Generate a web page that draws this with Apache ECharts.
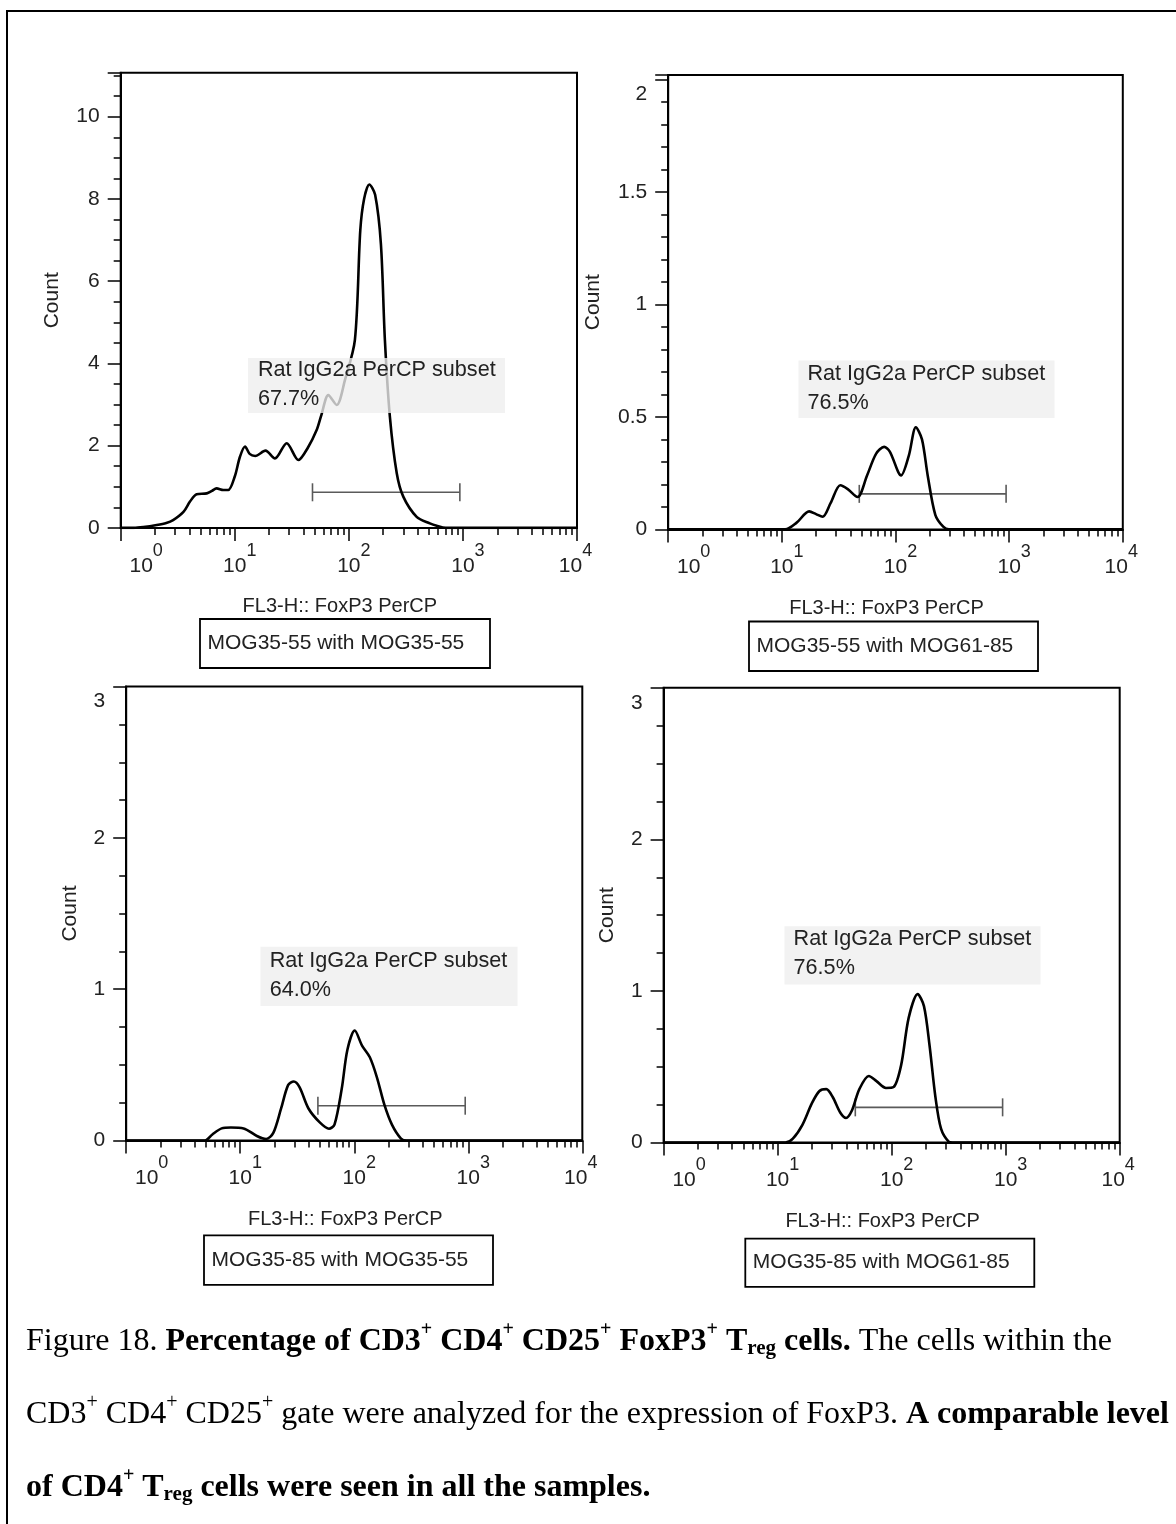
<!DOCTYPE html>
<html>
<head>
<meta charset="utf-8">
<script src="https://cdn.jsdelivr.net/npm/echarts@6/dist/echarts.min.js"></script>
<style>
html,body{margin:0;padding:0;background:#fff;}
#chart{width:1176px;height:1524px;}
</style>
</head>
<body>
<div id="chart"></div>
<script>
// ---------------- DATA ----------------
// FoxP3 PerCP intensity (FL3-H) and event count
const tlIntensity = [1, 1.3, 1.58, 2.07, 2.51, 2.88, 3.55, 4.05, 4.63, 5.68, 6.31, 6.92, 7.94, 8.77, 10, 11.1, 12.3, 13.5, 15.1, 18.6, 22.5, 28.5, 36.1, 43.7, 52.2, 57.5, 66.1, 78.2, 92.5, 113, 126, 136, 151, 170, 191, 207, 229, 263, 300, 393, 513, 589, 708, 10000];
const tlCount     = [0, 0, 0.02, 0.07, 0.12, 0.19, 0.39, 0.64, 0.82, 0.84, 0.9, 0.96, 0.92, 0.92, 1.25, 1.73, 1.98, 1.8, 1.75, 1.88, 1.69, 2.06, 1.65, 1.95, 2.38, 2.75, 3.23, 2.99, 3.6, 4.57, 7.24, 8.0, 8.35, 8.1, 6.9, 4.57, 2.7, 1.33, 0.76, 0.27, 0.11, 0.05, 0, 0];

const trIntensity = [1, 10.7, 13.5, 17.4, 20, 22.8, 26.9, 32.7, 38, 46.3, 56.2, 67.6, 79.4, 89.1, 112, 131, 151, 171, 192, 224, 263, 295, 10000];
const trCount     = [0, 0, 0.03, 0.08, 0.068, 0.056, 0.118, 0.196, 0.179, 0.144, 0.24, 0.337, 0.367, 0.346, 0.24, 0.328, 0.454, 0.4, 0.24, 0.065, 0.012, 0, 0];

const blIntensity = [1, 4.9, 5.7, 6.87, 8.28, 10.7, 14.0, 16.9, 19.5, 22.8, 26.3, 29.5, 33.1, 39.8, 50.1, 60, 67.1, 77.6, 87.1, 101, 117, 137, 158, 184, 214, 257, 288, 10000];
const blCount     = [0, 0, 0.04, 0.08, 0.086, 0.08, 0.03, 0.01, 0.05, 0.21, 0.366, 0.39, 0.353, 0.21, 0.118, 0.078, 0.105, 0.34, 0.6, 0.727, 0.627, 0.55, 0.418, 0.235, 0.105, 0.013, 0, 0];

const brIntensity = [1, 11.7, 13.6, 16.5, 20, 23.3, 26.7, 30.4, 35.5, 39.8, 44.7, 52.1, 63.1, 73.6, 89.1, 104, 121, 141, 169, 192, 215, 242, 271, 316, 341, 10000];
const brCount     = [0, 0, 0.026, 0.117, 0.26, 0.34, 0.352, 0.3, 0.196, 0.162, 0.209, 0.352, 0.439, 0.405, 0.36, 0.366, 0.509, 0.822, 0.979, 0.9, 0.64, 0.3, 0.091, 0.005, 0, 0];

const sampleNames    = ['MOG35-55 with MOG35-55', 'MOG35-55 with MOG61-85', 'MOG35-85 with MOG35-55', 'MOG35-85 with MOG61-85'];
const subsetName     = 'Rat IgG2a PerCP subset';
const subsetPercents = ['67.7%', '76.5%', '64.0%', '76.5%'];
const gateRange      = [48, 940];
const gateLevels     = [0.866, 0.158, 0.23, 0.232];
const countMax       = [11.07, 2.02, 3, 3];
const countStep      = [2, 0.5, 1, 1];
const countMinorSplit= [4, 5, 4, 4];
const intensityRange = [1, 10000];
const xAxisTitle     = 'FL3-H:: FoxP3 PerCP';
const yAxisTitle     = 'Count';

// ---------------- LAYOUT ----------------
const SANS = '"Liberation Sans", Arial, Helvetica, sans-serif';
const SERIF = '"Liberation Serif", "Times New Roman", serif';
const TXT = '#222';

const panels = [
  { grid: {left: 120.7, top: 72.7, width: 456.3, height: 455.2}, countGap: 58,
    ann: {x: 248, y: 358, w: 257, h: 55, tx: 258, ty: 356}, box: {x: 200, y: 619, w: 290, h: 49} },
  { grid: {left: 668.2, top: 75, width: 454.6, height: 454.4}, countGap: 64,
    ann: {x: 798.5, y: 360.5, w: 256, h: 57.5, tx: 807.5, ty: 360}, box: {x: 749, y: 621.5, w: 289, h: 49.5} },
  { grid: {left: 126.2, top: 686.6, width: 456.1, height: 453.9}, countGap: 45,
    ann: {x: 260.5, y: 946.8, w: 257, h: 59.2, tx: 269.7, ty: 946.5}, box: {x: 204, y: 1235.4, w: 289, h: 49.5} },
  { grid: {left: 663.6, top: 687.8, width: 456.1, height: 454.7}, countGap: 46,
    ann: {x: 784.5, y: 926.2, w: 256, h: 58.2, tx: 793.6, ty: 924.8}, box: {x: 745.3, y: 1238.6, w: 289, h: 48.2} }
];

const seriesData = [
  [tlIntensity, tlCount], [trIntensity, trCount], [blIntensity, blCount], [brIntensity, brCount]
];

const grids = [], xAxes = [], yAxes = [], series = [], graphics = [];

panels.forEach((p, i) => {
  grids.push(Object.assign({
    show: true, borderColor: '#000', borderWidth: 2, backgroundColor: 'transparent',
    containLabel: false, outerBoundsMode: 'none'
  }, p.grid));

  xAxes.push({
    type: 'log', logBase: 10, gridIndex: i,
    min: intensityRange[0], max: intensityRange[1],
    axisLine: {show: true, onZero: false, lineStyle: {color: '#000', width: 2}},
    axisTick: {show: true, inside: false, length: 13, lineStyle: {color: '#000', width: 1.5}},
    minorTick: {show: true, splitNumber: 9, length: 7, lineStyle: {color: '#000', width: 1.5}},
    splitLine: {show: false}, minorSplitLine: {show: false},
    axisLabel: {
      show: true, margin: 14, color: TXT, fontFamily: SANS,
      showMinLabel: true, showMaxLabel: true, hideOverlap: false,
      formatter: function (v) {
        const e = Math.round(Math.log10(v));
        if (e === 0) return '{p0| }{b|10}{s|' + e + '}';
        if (e === 4) return '{b|10}{s|' + e + '}{q| }';
        return '{p| }{b|10}{s|' + e + '}';
      },
      rich: {
        p0: {width: 51, fontSize: 21},
        p: {width: 10, fontSize: 21},
        q: {width: 3, fontSize: 21},
        b: {fontSize: 21, fontFamily: SANS, color: TXT},
        s: {fontSize: 18, fontFamily: SANS, color: TXT, padding: [0, 0, 30, 0]}
      }
    },
    name: xAxisTitle, nameLocation: 'middle', nameGap: 69, nameMoveOverlap: false,
    nameTextStyle: {fontSize: 20, fontFamily: SANS, color: TXT, padding: [0, 18, 0, 0]}
  });

  const step = countStep[i];
  const topVal = Math.floor(countMax[i] / step + 1e-9) * step;
  const nearTop = (countMax[i] - topVal) < step * 0.1;
  yAxes.push({
    type: 'value', gridIndex: i, min: 0, max: countMax[i], interval: step,
    axisLine: {show: true, onZero: false, lineStyle: {color: '#000', width: 2}},
    axisTick: {show: true, inside: false, length: 13, lineStyle: {color: '#000', width: 1.5}},
    minorTick: {show: true, splitNumber: countMinorSplit[i], length: 7, lineStyle: {color: '#000', width: 1.5}},
    splitLine: {show: false}, minorSplitLine: {show: false},
    axisLabel: {
      margin: 21, color: TXT, fontFamily: SANS, fontSize: 21,
      formatter: function (v) {
        const r = v / step;
        if (Math.abs(r - Math.round(r)) > 1e-6) return '';
        const s = String(+v.toFixed(2));
        if (nearTop && Math.abs(v - topVal) < 1e-9) return '{t|' + s + '}';
        return '{v|' + s + '}';
      },
      rich: {
        v: {fontSize: 21, fontFamily: SANS, color: TXT},
        t: {fontSize: 21, fontFamily: SANS, color: TXT, padding: [30, 0, 0, 0]}
      }
    },
    name: yAxisTitle, nameLocation: 'middle', nameGap: p.countGap, nameRotate: 90, nameMoveOverlap: false,
    nameTextStyle: {fontSize: 21, fontFamily: SANS, color: TXT}
  });

  const [xs, ys] = seriesData[i];
  series.push({
    type: 'line', xAxisIndex: i, yAxisIndex: i,
    data: xs.map((x, k) => [x, ys[k]]),
    smooth: 0.3, showSymbol: false, symbol: 'none',
    lineStyle: {color: '#000', width: 2.6}, z: 3, animation: false
  });

  series.push({
    type: 'custom', xAxisIndex: i, yAxisIndex: i, z: 2, clip: false, animation: false,
    encode: {x: [0, 1], y: 2},
    data: [[gateRange[0], gateRange[1], gateLevels[i]]],
    renderItem: function (params, api) {
      const y = api.value(2);
      const a = api.coord([api.value(0), y]);
      const b = api.coord([api.value(1), y]);
      const st = {stroke: '#5a5a5a', lineWidth: 1.6};
      return {type: 'group', children: [
        {type: 'line', shape: {x1: a[0], y1: a[1], x2: b[0], y2: b[1]}, style: st},
        {type: 'line', shape: {x1: a[0], y1: a[1] - 9, x2: a[0], y2: a[1] + 9}, style: st},
        {type: 'line', shape: {x1: b[0], y1: b[1] - 9, x2: b[0], y2: b[1] + 9}, style: st}
      ]};
    }
  });

  // annotation (subset name + percent) on translucent box
  graphics.push({
    type: 'rect', z: 100, silent: true,
    shape: {x: p.ann.x, y: p.ann.y, width: p.ann.w, height: p.ann.h},
    style: {fill: 'rgba(238,238,238,0.78)'}
  });
  graphics.push({
    type: 'text', z: 101, silent: true, x: p.ann.tx, y: p.ann.ty,
    style: {text: subsetName + '\n' + subsetPercents[i], fill: TXT, font: '21.6px ' + SANS,
            lineHeight: 29, align: 'left', verticalAlign: 'top'}
  });
  // sample name box
  graphics.push({
    type: 'rect', z: 100, silent: true,
    shape: {x: p.box.x, y: p.box.y, width: p.box.w, height: p.box.h},
    style: {fill: '#fff', stroke: '#000', lineWidth: 1.8}
  });
  graphics.push({
    type: 'text', z: 101, silent: true, x: p.box.x + 7.5, y: p.box.y + p.box.h / 2,
    style: {text: sampleNames[i], fill: TXT, font: '21px ' + SANS, align: 'left', verticalAlign: 'middle'}
  });
});

// outer frame
graphics.push({
  type: 'rect', z: 0, silent: true,
  shape: {x: 7, y: 11, width: 1400, height: 1700},
  style: {fill: 'none', stroke: '#000', lineWidth: 2}
});

// caption
const capRich = {
  r: {fontFamily: SERIF, fontSize: 32, color: '#000'},
  b: {fontFamily: SERIF, fontSize: 32, fontWeight: 'bold', color: '#000'},
  rs: {fontFamily: SERIF, fontSize: 20, color: '#000', padding: [0, 0, 24, 0]},
  bs: {fontFamily: SERIF, fontSize: 20, fontWeight: 'bold', color: '#000', padding: [0, 0, 24, 0]},
  bsub: {fontFamily: SERIF, fontSize: 21, fontWeight: 'bold', color: '#000', padding: [14, 0, 0, 0]}
};
const captionLines = [
  '{r|Figure 18. }{b|Percentage of CD3}{bs|+}{b| CD4}{bs|+}{b| CD25}{bs|+}{b| FoxP3}{bs|+}{b| T}{bsub|reg}{b| cells.}{r| The cells within the}',
  '{r|CD3}{rs|+}{r| CD4}{rs|+}{r| CD25}{rs|+}{r| gate were analyzed for the expression of FoxP3. }{b|A comparable level}',
  '{b|of CD4}{bs|+}{b| T}{bsub|reg}{b| cells were seen in all the samples.}'
];
const captionY = [1342, 1415, 1488];
captionLines.forEach((t, k) => {
  graphics.push({
    type: 'text', z: 101, silent: true, x: 26, y: captionY[k],
    style: {text: t, rich: capRich, align: 'left', verticalAlign: 'middle'}
  });
});

const chart = echarts.init(document.getElementById('chart'), null, {renderer: 'canvas'});
chart.setOption({
  animation: false,
  backgroundColor: '#fff',
  grid: grids, xAxis: xAxes, yAxis: yAxes, series: series,
  graphic: {elements: graphics}
});
</script>
</body>
</html>
